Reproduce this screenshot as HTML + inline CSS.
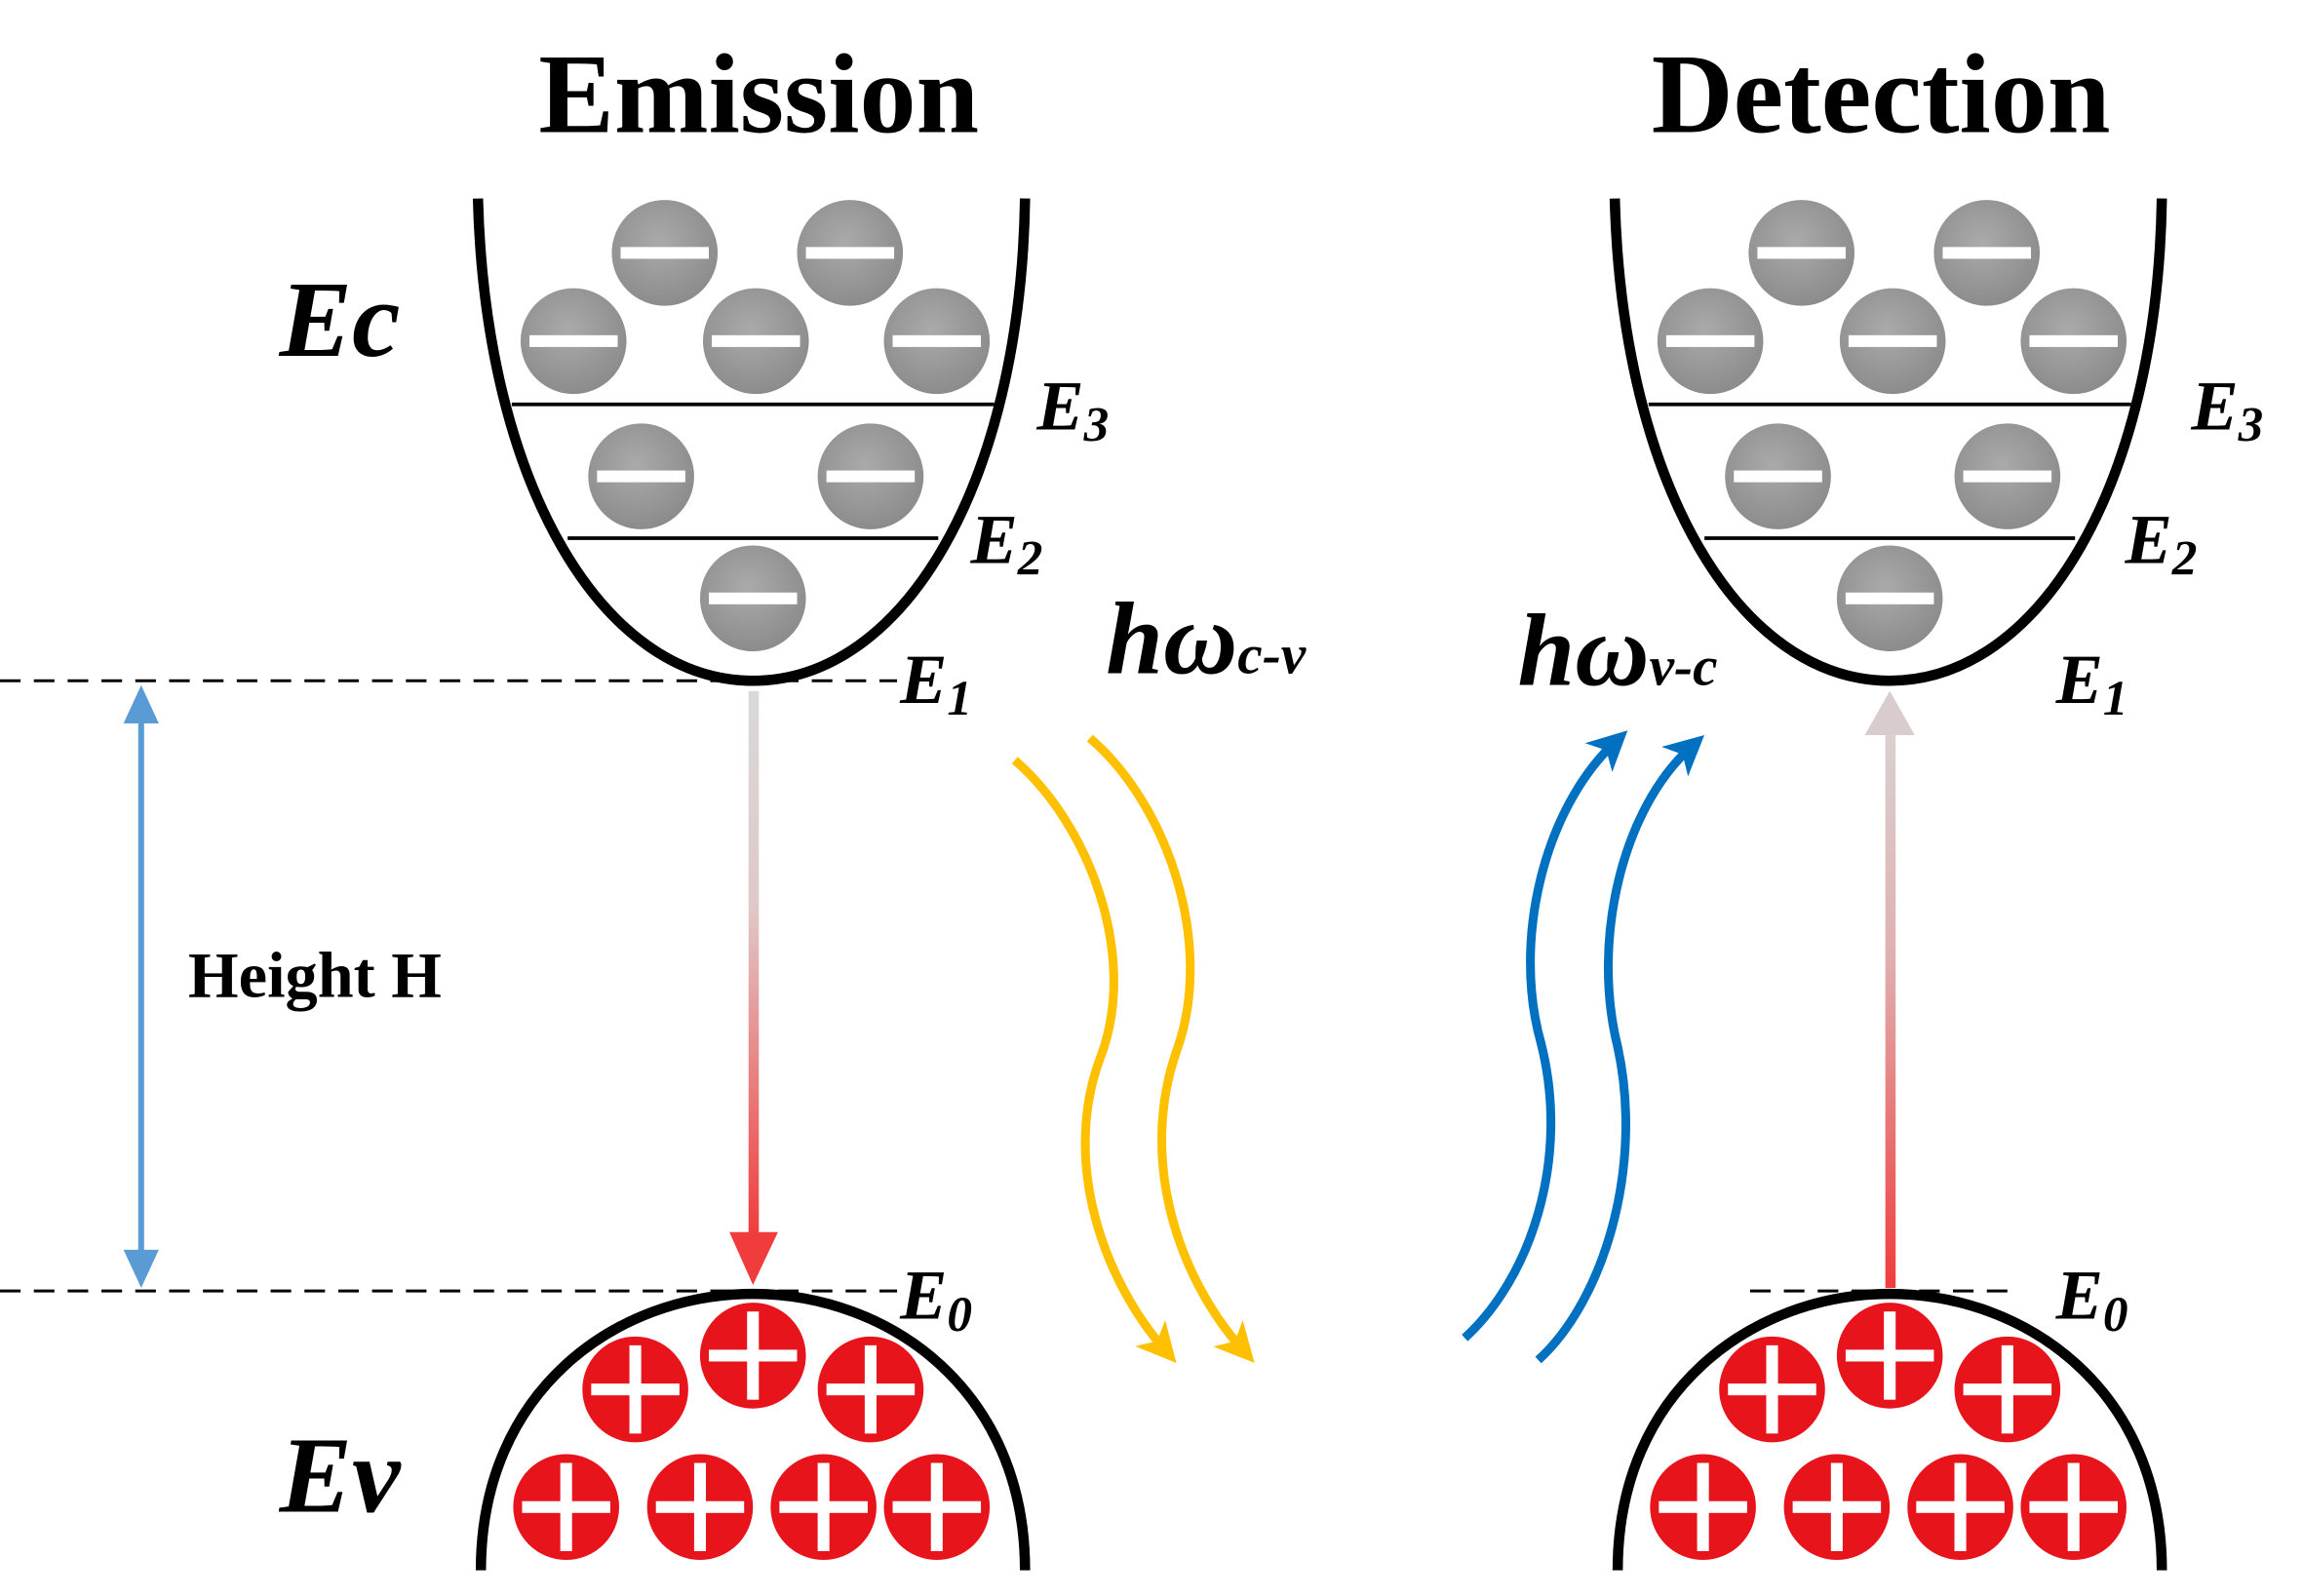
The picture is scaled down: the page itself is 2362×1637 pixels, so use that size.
<!DOCTYPE html>
<html><head><meta charset="utf-8"><style>
html,body{margin:0;padding:0;background:#fff}
svg{display:block}
text{font-family:"Liberation Serif",serif;font-weight:bold}
</style></head><body>
<svg width="2362" height="1637" viewBox="0 0 1566 1085.5" preserveAspectRatio="none" xmlns="http://www.w3.org/2000/svg">
<defs>
<linearGradient id="gd" x1="0" y1="0" x2="0" y2="1"><stop offset="0" stop-color="#d9d9d9"/><stop offset="0.4" stop-color="#e0c8c8"/><stop offset="1" stop-color="#f03c3c"/></linearGradient>
<linearGradient id="gu" x1="0" y1="1" x2="0" y2="0"><stop offset="0" stop-color="#f03c3c"/><stop offset="0.6" stop-color="#e0b0b0"/><stop offset="1" stop-color="#d9d0d0"/></linearGradient>
<radialGradient id="gr" cx="0.45" cy="0.4" r="0.6"><stop offset="0" stop-color="#aaa"/><stop offset="1" stop-color="#8c8c8c"/></radialGradient>
<marker id="ay" markerWidth="4.5" markerHeight="4.5" refX="2.5" refY="2.25" orient="auto" markerUnits="strokeWidth"><path d="M0,0 L4.5,2.25 L0,4.5 L1.2,2.25 z" fill="#ffc000"/></marker>
<marker id="ab" markerWidth="4.5" markerHeight="4.5" refX="2.5" refY="2.25" orient="auto" markerUnits="strokeWidth"><path d="M0,0 L4.5,2.25 L0,4.5 L1.2,2.25 z" fill="#0070c0"/></marker>
<g id="el"><circle r="36" fill="url(#gr)"/><rect x="-30" y="-4" width="60" height="8" fill="#fff"/></g>
<g id="ho"><circle r="36" fill="#e8141c"/><rect x="-30" y="-4" width="60" height="8" fill="#fff"/><rect x="-4" y="-30" width="8" height="60" fill="#fff"/></g>
<g id="band">
<path d="M325,135 C330,330 410,463 512,463 C614,463 694,330 697,135" fill="none" stroke="#000" stroke-width="7"/>
<line x1="348" y1="275" x2="676" y2="275" stroke="#000" stroke-width="2.5"/>
<line x1="386" y1="366" x2="638" y2="366" stroke="#000" stroke-width="2.5"/>
<use href="#el" x="452" y="172"/><use href="#el" x="578" y="172"/>
<use href="#el" x="390" y="232"/><use href="#el" x="514" y="232"/><use href="#el" x="637" y="232"/>
<use href="#el" x="436" y="324"/><use href="#el" x="592" y="324"/><use href="#el" x="512" y="407"/>
<path d="M327,1068 C327,945 420,880 512,880 C604,880 697,945 697,1068" fill="none" stroke="#000" stroke-width="7"/>
<use href="#ho" x="432" y="945"/><use href="#ho" x="512" y="922"/><use href="#ho" x="592" y="945"/>
<use href="#ho" x="385" y="1025"/><use href="#ho" x="476" y="1025"/><use href="#ho" x="560" y="1025"/><use href="#ho" x="637" y="1025"/>
</g>
</defs>
<g stroke="#000" stroke-width="2" stroke-dasharray="14,9">
<line x1="0" y1="463" x2="610" y2="463"/><line x1="0" y1="878" x2="610" y2="878"/>
<line x1="1190" y1="878" x2="1372" y2="878"/>
</g>
<use href="#band"/>
<use href="#band" x="773"/>
<rect x="509" y="470" width="7" height="370" fill="url(#gd)"/>
<path d="M496,838 L529,838 L512,874 z" fill="#f03c3c"/>
<rect x="1282" y="500" width="7" height="376" fill="url(#gu)"/>
<path d="M1268,500 L1302,500 L1285,470 z" fill="#d8cccc"/>
<line x1="96" y1="490" x2="96" y2="852" stroke="#5b9bd5" stroke-width="4"/>
<path d="M84,492 L108,492 L96,466 z M84,850 L108,850 L96,876 z" fill="#5b9bd5"/>
<text x="128" y="678" font-size="44">Height H</text>
<text x="516" y="90" font-size="77" text-anchor="middle">Emission</text>
<text x="1279" y="90" font-size="77" text-anchor="middle">Detection</text>
<g font-style="italic">
<text x="190" y="242" font-size="74">Ec</text>
<text x="190" y="1028" font-size="74">Ev</text>
<text x="705" y="292" font-size="48">E<tspan font-size="34" dy="8">3</tspan></text>
<text x="660" y="383" font-size="48">E<tspan font-size="34" dy="8">2</tspan></text>
<text x="612" y="478" font-size="48">E<tspan font-size="34" dy="8">1</tspan></text>
<text x="612" y="897" font-size="48">E<tspan font-size="34" dy="8">0</tspan></text>
<text x="1490" y="292" font-size="48">E<tspan font-size="34" dy="8">3</tspan></text>
<text x="1445" y="383" font-size="48">E<tspan font-size="34" dy="8">2</tspan></text>
<text x="1398" y="478" font-size="48">E<tspan font-size="34" dy="8">1</tspan></text>
<text x="1398" y="897" font-size="48">E<tspan font-size="34" dy="8">0</tspan></text>
<text x="752" y="458" font-size="70">hω<tspan font-size="38">c-v</tspan></text>
<text x="1032" y="466" font-size="70">hω<tspan font-size="38">v-c</tspan></text>
</g>
<g fill="none" stroke-width="6">
<path d="M690,517 C740,560 775,650 748,720 C722,790 750,870 792,918" stroke="#ffc000" marker-end="url(#ay)"/>
<path d="M741,502 C792,545 827,640 800,715 C774,790 802,870 845,918" stroke="#ffc000" marker-end="url(#ay)"/>
<path d="M996,910 C1040,870 1068,790 1048,710 C1028,640 1050,550 1098,505" stroke="#0070c0" marker-end="url(#ab)"/>
<path d="M1046,925 C1090,885 1118,795 1100,712 C1082,640 1103,550 1150,508" stroke="#0070c0" marker-end="url(#ab)"/>
</g>
</svg>
</body></html>
